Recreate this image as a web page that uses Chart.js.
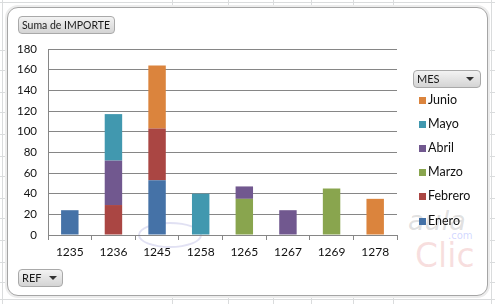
<!DOCTYPE html>
<html><head><meta charset="utf-8">
<script src="https://cdn.jsdelivr.net/npm/chart.js@4.4.0/dist/chart.umd.min.js"></script>
<style>
html,body{margin:0;padding:0;background:#fff;}
#wrap{position:relative;width:495px;height:304px;overflow:hidden;background:#fff;font-family:Lato,sans-serif;}
.gl{position:absolute;background:#dadcdd;}
#frame{position:absolute;left:7px;top:7px;width:479px;height:287px;border:1px solid #a5a5a5;border-radius:11px;background:#fff;box-shadow:0 0 0 2px #ececec;}
canvas{position:absolute;left:0;top:0;}
.btn{position:absolute;height:16px;border:1px solid #a9a9a9;border-radius:4px;background:linear-gradient(#f3f3f3,#d4d4d4);font-size:11px;line-height:16px;color:#1a1a1a;padding-left:3px;box-sizing:content-box;white-space:nowrap;}
.arr{position:absolute;top:6px;width:0;height:0;border-left:4px solid transparent;border-right:4px solid transparent;border-top:4px solid #333;}
.li{position:absolute;left:419px;font-size:12.5px;color:#111;height:14px;line-height:14px;}
.li span{position:absolute;left:0;top:4px;width:7px;height:7px;}
.li b{font-weight:normal;position:absolute;left:9px;top:0;white-space:nowrap;}
.wm{position:absolute;font-family:"DejaVu Sans",sans-serif;}
</style></head><body>
<div id="wrap">
  <div class="gl" style="left:0;top:2px;width:495px;height:1px"></div>
  <div class="gl" style="left:2px;top:0;width:1px;height:304px"></div>
  <div class="gl" style="left:491px;top:0;width:1px;height:304px"></div>
  <div class="gl" style="left:0;top:299px;width:495px;height:1px"></div>
  <div class="gl" style="left:273px;top:0;width:1px;height:304px"></div>
  <div class="gl" style="left:311px;top:0;width:1px;height:304px"></div>
  <div class="gl" style="left:353px;top:0;width:1px;height:304px"></div>
  <div class="gl" style="left:393px;top:0;width:1px;height:304px"></div>
  <div class="gl" style="left:172px;top:0;width:1px;height:304px"></div>
  <div class="gl" style="left:228px;top:0;width:1px;height:304px"></div>
  <div class="gl" style="left:0;top:50px;width:495px;height:1px"></div>
  <div class="gl" style="left:0;top:70px;width:495px;height:1px"></div>
  <div class="gl" style="left:0;top:92px;width:495px;height:1px"></div>
  <div class="gl" style="left:0;top:112px;width:495px;height:1px"></div>
  <div class="gl" style="left:0;top:134px;width:495px;height:1px"></div>
  <div class="gl" style="left:0;top:156px;width:495px;height:1px"></div>
  <div class="gl" style="left:0;top:176px;width:495px;height:1px"></div>
  <div class="gl" style="left:0;top:198px;width:495px;height:1px"></div>
  <div class="gl" style="left:0;top:218px;width:495px;height:1px"></div>
  <div class="gl" style="left:0;top:240px;width:495px;height:1px"></div>
  <div class="gl" style="left:0;top:262px;width:495px;height:1px"></div>
  <div class="gl" style="left:0;top:282px;width:495px;height:1px"></div>
  <div id="frame"></div>
  <div class="wm" style="left:138px;top:222px;width:60px;height:22px;border:2px solid rgba(170,170,220,0.35);border-radius:50%;"></div>
  <div class="wm" style="left:408px;top:205px;font-size:27px;font-style:italic;color:rgba(150,150,150,0.3);">aula</div>
  <div class="wm" style="left:448px;top:230px;font-size:10px;color:rgba(120,140,255,0.35);">.com</div>
  <div class="wm" style="left:415px;top:236px;font-size:33px;color:rgba(230,140,140,0.28);">Clic</div>
  <canvas id="c" width="495" height="304"></canvas>
  <div class="btn" style="left:18px;top:16px;width:92px;font-size:10.5px;">Suma de IMPORTE</div>
  <div class="btn" style="left:18px;top:269px;width:40px;">REF<div class="arr" style="left:30px"></div></div>
  <div class="btn" style="left:413px;top:70px;width:63px;">MES<div class="arr" style="left:52px"></div></div>
  <div id="legend"></div>
</div>
<script>
const categories = ["1235","1236","1245","1258","1265","1267","1269","1278"];
const seriesNames = ["Enero","Febrero","Marzo","Abril","Mayo","Junio"];
const enero   = [24, 0, 53, 0, 0, 0, 0, 0];
const febrero = [0, 29, 50, 0, 0, 0, 0, 0];
const marzo   = [0, 0, 0, 0, 35, 0, 45, 0];
const abril   = [0, 43, 0, 0, 12, 24, 0, 0];
const mayo    = [0, 45, 0, 40, 0, 0, 0, 0];
const junio   = [0, 0, 61, 0, 0, 0, 0, 35];
const yTicks  = [0,20,40,60,80,100,120,140,160,180];
const colors  = ["#4572A7","#AA4643","#89A54E","#71588F","#4198AF","#DB843D"];
const values  = [enero, febrero, marzo, abril, mayo, junio];

const datasets = seriesNames.map((n,i)=>({
  label:n,
  data:values[i].map(v=>v===0?null:v),
  backgroundColor:colors[i],
  borderWidth:0,
  categoryPercentage:1,
  barPercentage:0.4
}));

const gray = "#868686";
new Chart(document.getElementById("c"),{
  type:"bar",
  data:{labels:categories,datasets},
  options:{
    responsive:false,animation:false,
    layout:{padding:{top:49,left:0,right:98,bottom:39}},
    plugins:{legend:{display:false},tooltip:{enabled:false}},
    scales:{
      x:{stacked:true,
        afterFit:s=>{s.height=30;},
        grid:{display:true,offset:true,drawOnChartArea:false,drawTicks:true,tickLength:5,color:gray,lineWidth:1},
        border:{display:true,color:gray,width:1},
        ticks:{color:"#111",font:{family:"Lato",size:12},padding:5,maxRotation:0}
      },
      y:{stacked:true,min:0,max:180,
        afterFit:s=>{s.width=48;},
        afterBuildTicks:s=>{s.ticks=yTicks.map(v=>({value:v}));},
        grid:{color:gray,lineWidth:1,drawTicks:false},
        border:{display:true,color:gray,width:1},
        ticks:{color:"#111",font:{family:"Lato",size:11.5},padding:11}
      }
    }
  }
});

const leg=document.getElementById("legend");
const ys=[100,124,148,172,196,221];
seriesNames.slice().reverse().forEach((n,k)=>{
  const i=seriesNames.length-1-k;
  const d=document.createElement("div");
  d.className="li";d.style.top=(ys[k]-7)+"px";
  d.innerHTML='<span style="background:'+colors[i]+'"></span><b>'+n+'</b>';
  leg.appendChild(d);
});
</script>
</body></html>
